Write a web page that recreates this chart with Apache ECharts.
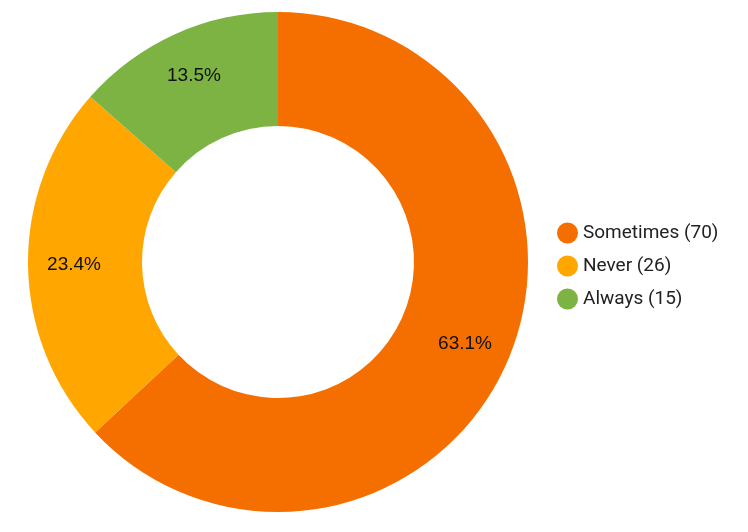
<!DOCTYPE html>
<html>
<head>
<meta charset="utf-8">
<script src="https://cdn.jsdelivr.net/npm/echarts@6/dist/echarts.min.js"></script>
<style>
  html, body { margin: 0; padding: 0; background: #fff; }
  #chart { width: 748px; height: 532px; }
</style>
</head>
<body>
<div id="chart"></div>
<script>
const categories = ['Sometimes', 'Never', 'Always'];
const counts = [70, 26, 15];
const colors = ['#F56F00', '#FFA700', '#7CB342'];

const chart = echarts.init(document.getElementById('chart'));
const data = categories.map((name, i) => ({
  name: name,
  value: counts[i],
  itemStyle: { color: colors[i] }
}));

chart.setOption({
  animation: false,
  textStyle: { fontFamily: 'Roboto' },
  legend: {
    orient: 'vertical',
    left: 552,
    top: 'middle',
    icon: 'circle',
    itemWidth: 21,
    itemHeight: 21,
    itemGap: 12,
    data: categories,
    formatter: (name) => name + ' (' + counts[categories.indexOf(name)] + ')',
    textStyle: { fontSize: 19, color: '#222', fontFamily: 'Roboto', lineHeight: 21 }
  },
  series: [{
    type: 'pie',
    center: [278, 262],
    radius: [136, 250],
    startAngle: 90,
    clockwise: true,
    label: { show: false },
    labelLine: { show: false },
    emphasis: { disabled: true },
    data: data
  }, {
    // transparent copy, only to place the percent labels a bit further out
    type: 'pie',
    center: [278, 262],
    radius: [152, 250],
    startAngle: 90,
    clockwise: true,
    silent: true,
    itemStyle: { color: 'transparent' },
    label: {
      show: true,
      position: 'inside',
      formatter: (p) => p.percent.toFixed(1) + '%',
      color: '#111',
      fontSize: 19,
      fontFamily: 'Liberation Sans'
    },
    labelLine: { show: false },
    emphasis: { disabled: true },
    data: categories.map((name, i) => ({ name: name, value: counts[i], itemStyle: { color: 'transparent' } }))
  }]
});
</script>
</body>
</html>
